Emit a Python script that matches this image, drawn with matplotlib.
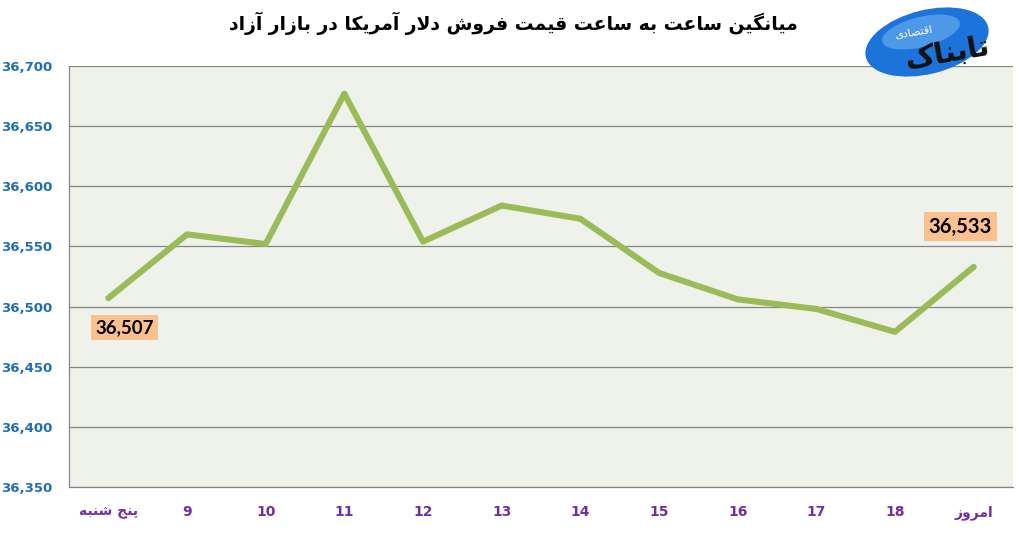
import matplotlib

matplotlib.use("Agg")
import matplotlib.pyplot as plt
from matplotlib.patches import Ellipse
from matplotlib.ticker import FuncFormatter


TITLE = "میانگین ساعت به ساعت قیمت فروش دلار آمریکا در بازار آزاد"
CATEGORIES = ["پنج شنبه", "9", "10", "11", "12", "13", "14", "15", "16", "17", "18", "امروز"]
PRICES = [36507, 36560, 36552, 36677, 36554, 36584, 36573, 36528, 36506, 36498, 36479, 36533]
Y_TICKS = [36350, 36400, 36450, 36500, 36550, 36600, 36650, 36700]
LOGO_MAIN = "تابناک"
LOGO_SUB = "اقتصادی"

# presentation forms: (isolated, final) or (isolated, final, initial, medial)
FORMS = {
    0x0627: (0xFE8D, 0xFE8E), 0x0622: (0xFE81, 0xFE82),
    0x062F: (0xFEA9, 0xFEAA), 0x0630: (0xFEAB, 0xFEAC),
    0x0631: (0xFEAD, 0xFEAE), 0x0632: (0xFEAF, 0xFEB0),
    0x0698: (0xFB8A, 0xFB8B), 0x0648: (0xFEED, 0xFEEE),
    0x0628: (0xFE8F, 0xFE90, 0xFE91, 0xFE92), 0x067E: (0xFB56, 0xFB57, 0xFB58, 0xFB59),
    0x062A: (0xFE95, 0xFE96, 0xFE97, 0xFE98), 0x062B: (0xFE99, 0xFE9A, 0xFE9B, 0xFE9C),
    0x062C: (0xFE9D, 0xFE9E, 0xFE9F, 0xFEA0), 0x0686: (0xFB7A, 0xFB7B, 0xFB7C, 0xFB7D),
    0x062D: (0xFEA1, 0xFEA2, 0xFEA3, 0xFEA4), 0x062E: (0xFEA5, 0xFEA6, 0xFEA7, 0xFEA8),
    0x0633: (0xFEB1, 0xFEB2, 0xFEB3, 0xFEB4), 0x0634: (0xFEB5, 0xFEB6, 0xFEB7, 0xFEB8),
    0x0635: (0xFEB9, 0xFEBA, 0xFEBB, 0xFEBC), 0x0636: (0xFEBD, 0xFEBE, 0xFEBF, 0xFEC0),
    0x0637: (0xFEC1, 0xFEC2, 0xFEC3, 0xFEC4), 0x0638: (0xFEC5, 0xFEC6, 0xFEC7, 0xFEC8),
    0x0639: (0xFEC9, 0xFECA, 0xFECB, 0xFECC), 0x063A: (0xFECD, 0xFECE, 0xFECF, 0xFED0),
    0x0641: (0xFED1, 0xFED2, 0xFED3, 0xFED4), 0x0642: (0xFED5, 0xFED6, 0xFED7, 0xFED8),
    0x06A9: (0xFB8E, 0xFB8F, 0xFB90, 0xFB91), 0x06AF: (0xFB92, 0xFB93, 0xFB94, 0xFB95),
    0x0644: (0xFEDD, 0xFEDE, 0xFEDF, 0xFEE0), 0x0645: (0xFEE1, 0xFEE2, 0xFEE3, 0xFEE4),
    0x0646: (0xFEE5, 0xFEE6, 0xFEE7, 0xFEE8), 0x0647: (0xFEE9, 0xFEEA, 0xFEEB, 0xFEEC),
    0x06CC: (0xFBFC, 0xFBFD, 0xFBFE, 0xFBFF),
}
LAM_ALEF = {0x0627: (0xFEFB, 0xFEFC), 0x0622: (0xFEF5, 0xFEF6)}


def shape_rtl(text: str) -> str:
    """Join Persian letters by hand and flip for left-to-right drawing."""
    cps = [ord(c) for c in text]
    if not any(c in FORMS for c in cps):
        return text
    out = []
    i = 0
    while i < len(cps):
        c = cps[i]
        prev = cps[i - 1] if i > 0 else None
        joins_prev = prev in FORMS and len(FORMS[prev]) == 4
        if c not in FORMS:
            out.append(chr(c))
            i += 1
            continue
        nxt = cps[i + 1] if i + 1 < len(cps) else None
        if c == 0x0644 and nxt in LAM_ALEF:
            out.append(chr(LAM_ALEF[nxt][1 if joins_prev else 0]))
            i += 2
            continue
        forms = FORMS[c]
        joins_next = len(forms) == 4 and nxt in FORMS
        if joins_prev and joins_next:
            out.append(chr(forms[3]))
        elif joins_next:
            out.append(chr(forms[2]))
        elif joins_prev:
            out.append(chr(forms[1]))
        else:
            out.append(chr(forms[0]))
        i += 1
    return "".join(reversed(out))


plt.rcParams["font.family"] = ["DejaVu Sans"]

fig = plt.figure(figsize=(10.2, 5.33), dpi=100)
ax = fig.add_axes([69 / 1020, 1 - 487 / 533, 944 / 1020, 421 / 533])
ax.set_facecolor("#EFF2EA")

x = list(range(len(CATEGORIES)))
ax.plot(x, PRICES, color="#9BBB59", linewidth=4.4, solid_capstyle="round", zorder=3)

ax.set_xlim(-0.5, len(CATEGORIES) - 0.5)
ax.set_ylim(Y_TICKS[0], Y_TICKS[-1])
ax.set_yticks(Y_TICKS)
ax.yaxis.set_major_formatter(FuncFormatter(lambda v, _: f"{int(v):,}"))
ax.set_xticks(x)
ax.set_xticklabels([shape_rtl(c) for c in CATEGORIES])
ax.grid(axis="y", color="#868686", linewidth=0.9, zorder=1)
ax.set_axisbelow(True)

for side in ("top", "right"):
    ax.spines[side].set_visible(False)
for side in ("left", "bottom"):
    ax.spines[side].set_color("#868686")
    ax.spines[side].set_linewidth(0.9)

ax.tick_params(axis="both", length=0)
ax.tick_params(axis="y", pad=12, labelsize=9.5, labelcolor="#1F6EB5")
ax.tick_params(axis="x", pad=13, labelsize=10, labelcolor="#7030A0")
for lab in ax.get_yticklabels() + ax.get_xticklabels():
    lab.set_fontweight("bold")

box = dict(boxstyle="square,pad=0.22", facecolor="#FAC090", edgecolor="none")
ax.annotate(f"{PRICES[0]:,}", (x[0], PRICES[0]), xytext=(11.5, -21), textcoords="offset points",
            ha="center", va="center", fontsize=13.5, fontweight="bold", family="Lato",
            color="black", bbox=box, zorder=4)
ax.annotate(f"{PRICES[-1]:,}", (x[-1], PRICES[-1]), xytext=(-9.5, 29), textcoords="offset points",
            ha="center", va="center", fontsize=14.5, fontweight="bold", family="Lato",
            color="black", bbox=box, zorder=4)

fig.text(513 / 1020, 1 - 23 / 533, shape_rtl(TITLE), ha="center", va="center",
         fontsize=13.5, fontweight="bold", color="black")

# simplified site logo in the corner
logo = fig.add_axes([855 / 1020, 1 - 90 / 533, 160 / 1020, 88 / 533])
logo.set_xlim(0, 160)
logo.set_ylim(0, 88)
logo.axis("off")
logo.add_patch(Ellipse((72, 48), 126, 64, angle=14, facecolor="#1C74DA", edgecolor="none"))
logo.add_patch(Ellipse((66, 58), 80, 30, angle=14, facecolor="#6FB3F2", edgecolor="none", alpha=0.6))
logo.text(92, 36, shape_rtl(LOGO_MAIN), ha="center", va="center", fontsize=21,
          fontweight="bold", color="#111111", rotation=10)
logo.text(58, 58, shape_rtl(LOGO_SUB), ha="center", va="center", fontsize=8,
          color="white", rotation=10)

fig.savefig("out.png", dpi=100, facecolor="white")
